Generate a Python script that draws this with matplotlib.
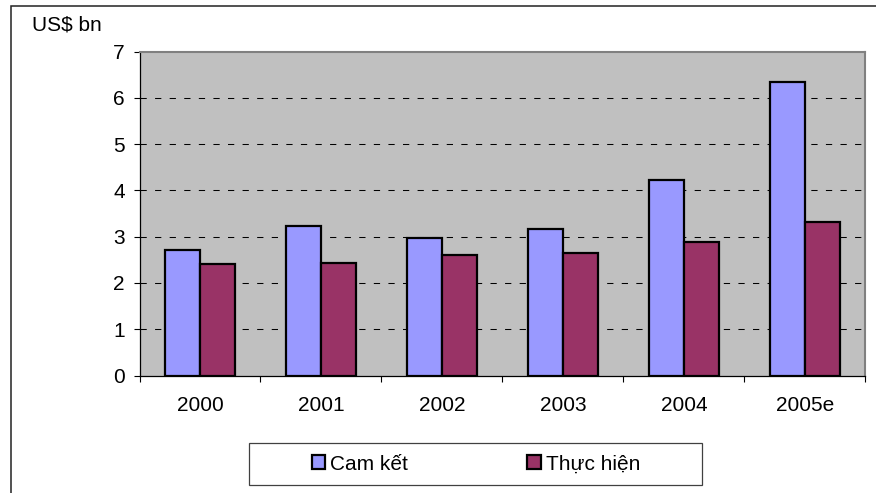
import numpy as np
import matplotlib.pyplot as plt
from matplotlib.patches import Rectangle, Patch

plt.rcParams['font.family'] = ['Liberation Sans', 'DejaVu Sans']

years = ['2000', '2001', '2002', '2003', '2004', '2005e']
cam_ket = [2.71, 3.23, 2.97, 3.16, 4.23, 6.34]
thuc_hien = [2.41, 2.43, 2.60, 2.65, 2.88, 3.31]
series_names = ['Cam kết', 'Thực hiện']
y_ticks = [0, 1, 2, 3, 4, 5, 6, 7]

W, H = 876, 493
fs = 15
fig = plt.figure(figsize=(W / 100, H / 100), dpi=100)

# plot area in pixel terms
left, right, top, bottom = 139.5, 865.3, 51.7, 375.5
ax = fig.add_axes([left / W, 1 - bottom / H, (right - left) / W, (bottom - top) / H])
ax.set_facecolor('#C0C0C0')

x = np.arange(len(years))
w = 0.287
ax.bar(x - w / 2, cam_ket, w, color='#9999FF', edgecolor='black', linewidth=1.6, zorder=3)
ax.bar(x + w / 2, thuc_hien, w, color='#993366', edgecolor='black', linewidth=1.6, zorder=3)

ax.set_xlim(-0.5, len(years) - 0.5)
ax.set_ylim(0, 7)
ax.set_yticks(y_ticks)
ax.set_yticklabels([str(v) for v in y_ticks], fontsize=fs)

# dashed grid lines
for v in y_ticks[1:-1]:
    ax.axhline(v, color='black', linewidth=0.75, linestyle=(0, (6, 8)), zorder=1)

# category boundaries as ticks, names centred between them
ax.set_xticks(np.arange(-0.5, len(years), 1))
ax.set_xticklabels([])
ax.set_xticks(x, minor=True)
ax.set_xticklabels(years, minor=True, fontsize=fs)
ax.tick_params(axis='x', which='major', direction='out', length=4.5, width=0.8)
ax.tick_params(axis='x', which='minor', length=0, pad=14.5)
ax.tick_params(axis='y', direction='out', length=4.5, width=0.8, pad=6)

for side in ['left', 'bottom']:
    ax.spines[side].set_color('black')
    ax.spines[side].set_linewidth(0.9)
for side in ['top', 'right']:
    ax.spines[side].set_color('#808080')
    ax.spines[side].set_linewidth(1.5)

fig.text(32 / W, 1 - 30.5 / H, 'US$ bn', fontsize=fs, va='baseline', ha='left')

# legend
handles = [Patch(facecolor='#9999FF', edgecolor='black', linewidth=1.6),
           Patch(facecolor='#993366', edgecolor='black', linewidth=1.6)]
fig.legend(handles, series_names, loc='center', ncol=2, frameon=False,
           bbox_to_anchor=(476 / W, 1 - 464 / H), fontsize=fs,
           handlelength=0.65, handleheight=0.65, handletextpad=0.25,
           columnspacing=5.7)
fig.patches.append(Rectangle((249 / W, 1 - 485 / H), 453 / W, 42 / H,
                             transform=fig.transFigure, fill=False,
                             edgecolor='#404040', linewidth=0.9))

# outer chart border
fig.patches.append(Rectangle((10.7 / W, -0.1), 1.2, 1 - 5.7 / H + 0.1,
                             transform=fig.transFigure, fill=False,
                             edgecolor='#222222', linewidth=1.1))

fig.savefig('out.png', dpi=100)
